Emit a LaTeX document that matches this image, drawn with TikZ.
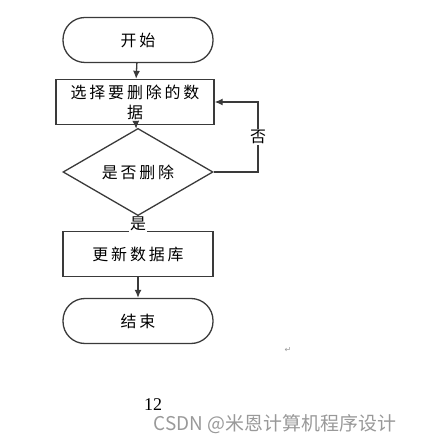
\documentclass[tikz,border=0pt]{standalone}
\usepackage{fontspec}
\setmainfont{Liberation Serif}
\newfontfamily\cjk[LetterSpace=18]{Noto Sans CJK SC}
\newfontfamily\cjkmark{Noto Sans CJK SC}
\newfontfamily\symb{DejaVu Sans}
\usepackage{tikz}
\usetikzlibrary{arrows.meta,positioning,shapes.geometric}
\definecolor{linegray}{HTML}{3a3a3a}
\definecolor{markgray}{HTML}{999999}
\tikzstyle{terminal}=[draw=linegray,rounded corners=22bp,minimum width=150bp,minimum height=45bp,inner sep=0pt]
\tikzstyle{process}=[draw=linegray,minimum width=150bp,minimum height=45bp,inner sep=0pt,align=center]
\tikzstyle{decision}=[draw=linegray,diamond,minimum width=150bp,minimum height=57bp,inner sep=0pt]
\tikzstyle{flow}=[draw=linegray,-{Latex[length=8bp,width=7bp]}]
\tikzstyle{answer}=[fill=white,inner sep=1bp]

\begin{document}
\begin{tikzpicture}[x=1bp,y=1bp,line width=1.3bp,font=\cjk\fontsize{16}{20}\selectfont]
\useasboundingbox (0,0) rectangle (420,-444);
% steps of the flow chart
\node [terminal] (start) at (138,-40) {开始};
\node [process,minimum width=158bp] (select) at (135,-102) {选择要删除的数\\据};
\node [decision] (ask) at (138,-172) {是否删除};
\node [process] (update) at (138,-254) {更新数据库};
\node [terminal] (stop) at (138,-321) {结束};
\coordinate (loop) at (258,-172);
% connectors
\draw [flow] (start) -- (select);
\draw [flow] (select) -- (ask);
\draw [flow] (ask) -- node [answer] {是} (update);
\draw [flow] (update) -- (stop);
\draw [flow] (ask.east) -- (loop) |- node [answer,pos=0.25] {否} (select.east);
% page marks
\node [text=markgray,font=\symb\fontsize{8}{8}\selectfont] (ret) at (288,-350) {↵};
\node [font=\rmfamily\fontsize{18}{18}\selectfont] (page) at (153,-405) {12};
\node [text=markgray,font=\cjkmark\fontsize{19}{19}\selectfont] (mark) at (275,-424) {CSDN @米恩计算机程序设计};
\end{tikzpicture}
\end{document}
